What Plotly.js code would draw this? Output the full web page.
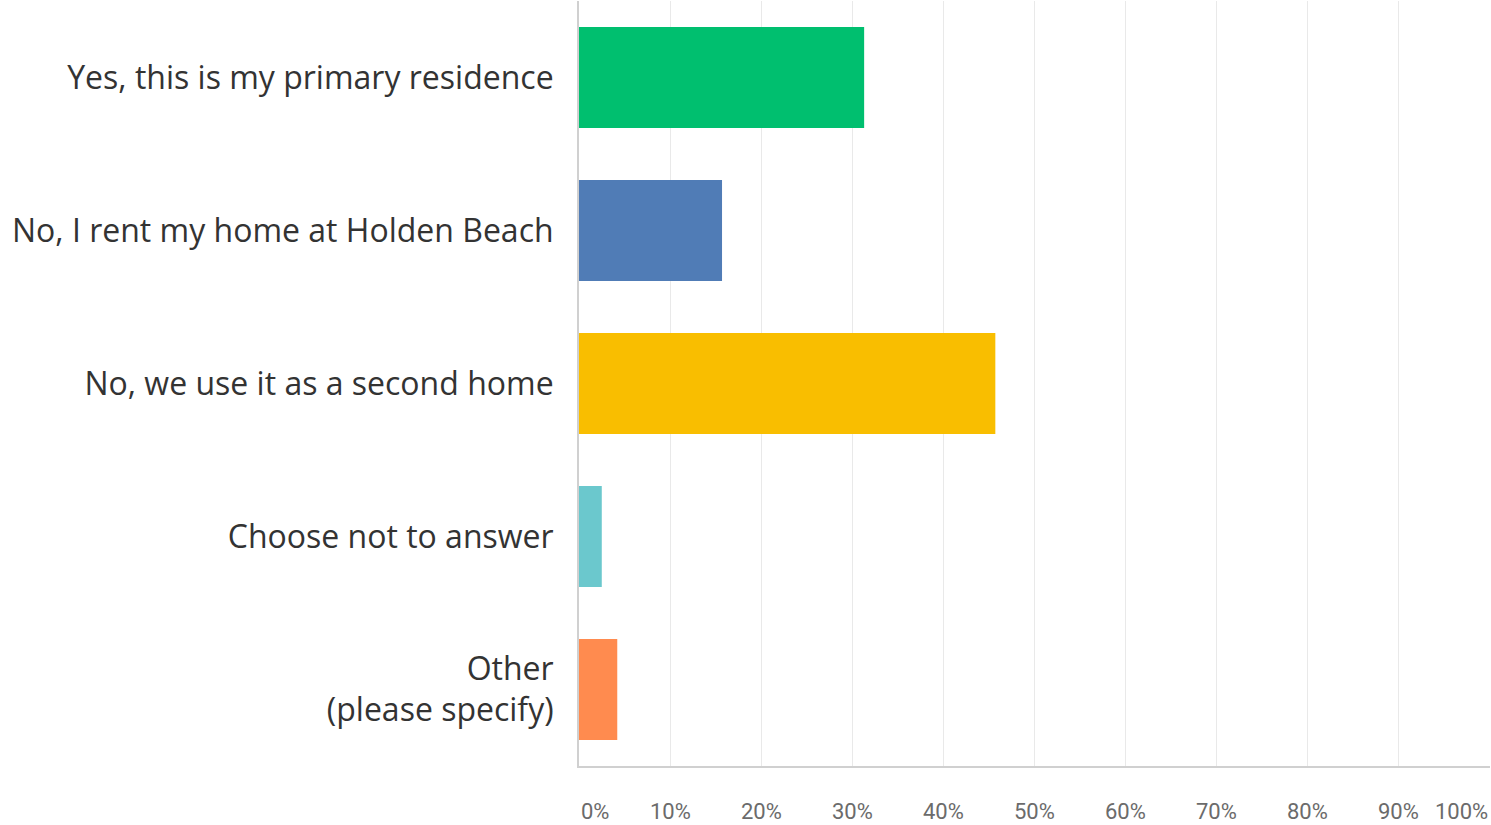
<!DOCTYPE html>
<html>
<head>
<meta charset="utf-8">
<script src="https://cdn.plot.ly/plotly-3.0.1.min.js"></script>
<style>html,body{margin:0;padding:0;background:#fff;}#chart{width:1491px;height:825px;}</style>
</head>
<body>
<div id="chart"></div>
<script>
const categories = [
  "Yes, this is my primary residence",
  "No, I rent my home at Holden Beach",
  "No, we use it as a second home",
  "Choose not to answer",
  "Other<br>(please specify)"
];
const values = [31.3, 15.7, 45.7, 2.5, 4.2];
const barColors = ["#00BF6F", "#507CB6", "#F9BE00", "#6BC8CD", "#FF8B4F"];
const tickValues = [0, 10, 20, 30, 40, 50, 60, 70, 80, 90, 100];
const tickLabels = ["0%", "10%", "20%", "30%", "40%", "50%", "60%", "70%", "80%", "90%", "100%"];

const trace = {
  type: "bar",
  orientation: "h",
  x: values,
  y: categories,
  marker: {color: barColors, line: {width: 0}},
  hoverinfo: "x+y"
};

const tickAnnotations = tickValues.map((v, i) => ({
  x: v, xref: "x",
  y: 0, yref: "paper",
  yanchor: "middle",
  yshift: -45,
  xanchor: i === 0 ? "left" : (i === tickValues.length - 1 ? "right" : "center"),
  text: tickLabels[i],
  showarrow: false,
  font: {family: "Roboto, sans-serif", size: 22, color: "#6b6b6b"}
}));

const layout = {
  width: 1491, height: 825,
  margin: {l: 579, r: 1, t: 1, b: 59},
  paper_bgcolor: "#fff", plot_bgcolor: "#fff",
  showlegend: false,
  bargap: 0.34,
  xaxis: {
    range: [0, 100],
    tickvals: tickValues,
    showticklabels: false,
    showgrid: true, gridcolor: "#e9e9e9", gridwidth: 1,
    zeroline: false,
    showline: true, linecolor: "#d0d0d0", linewidth: 2,
    fixedrange: true
  },
  yaxis: {
    type: "category",
    autorange: "reversed",
    showgrid: false, zeroline: false,
    showline: true, linecolor: "#d0d0d0", linewidth: 2,
    ticks: "", ticklabelstandoff: 17,
    tickfont: {family: "Open Sans, sans-serif", size: 32, color: "#333333"},
    fixedrange: true
  },
  annotations: tickAnnotations
};

Plotly.newPlot("chart", [trace], layout, {displayModeBar: false, staticPlot: true});
</script>
</body>
</html>
